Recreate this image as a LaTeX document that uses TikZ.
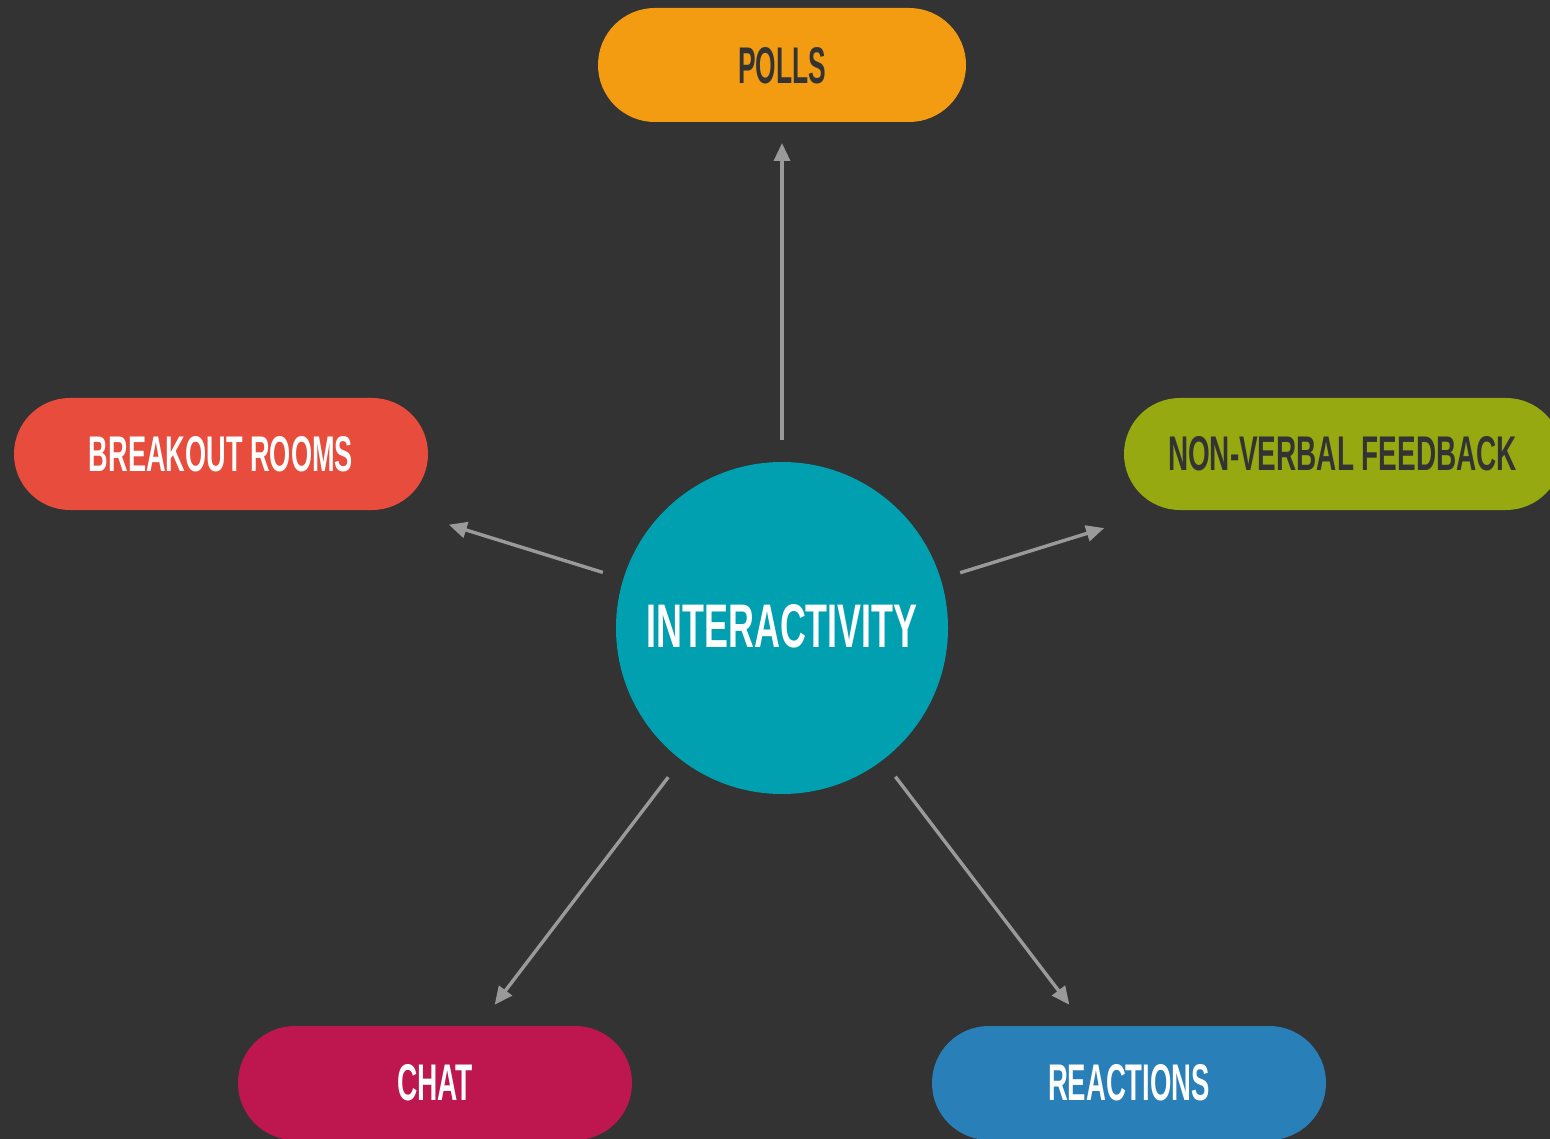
\documentclass[tikz,border=0pt]{standalone}
\usepackage{fontspec}
\setmainfont{Liberation Sans}
\usetikzlibrary{arrows.meta}
\definecolor{bg}{HTML}{333333}
\definecolor{ctrc}{HTML}{00A0B0}
\definecolor{pollc}{HTML}{F39C12}
\definecolor{brkc}{HTML}{E84C3D}
\definecolor{nvc}{HTML}{96A911}
\definecolor{chatc}{HTML}{BE164F}
\definecolor{reac}{HTML}{2980B9}
\definecolor{arrc}{HTML}{9A9A9A}
\definecolor{darktxt}{HTML}{333333}
\newcommand{\lbl}[3]{\resizebox{#1pt}{#2pt}{\bfseries #3}}
\begin{document}
\begin{tikzpicture}[x=1pt,y=-1pt,
  pill/.style={rectangle, rounded corners=56.9pt, minimum height=114pt, inner sep=0pt, draw=none},
  arr/.style={draw=arrc, line width=3.4pt, -{Triangle[length=18pt,width=16pt]}}]
\fill[bg] (0,0) rectangle (1550,1139);
\useasboundingbox (0,0) rectangle (1550,1139);
\clip (0,0) rectangle (1550,1139);
\node[circle, fill=ctrc, minimum size=332pt, inner sep=0pt] (ctr) at (782,628) {};
\node[text=white] (ctrt) at (782,626.5) {\lbl{271}{43}{INTERACTIVITY}};
\node[pill, fill=pollc, minimum width=368pt] (polls) at (782,65) {};
\node[text=darktxt] at (782,66) {\lbl{88}{36}{POLLS}};
\node[pill, fill=brkc, minimum width=414pt, minimum height=112pt, rounded corners=55.9pt] (brk) at (221,454) {};
\node[text=white] at (221,454.5) {\lbl{264}{35}{BREAKOUT ROOMS}};
\node[pill, fill=nvc, minimum width=438pt, minimum height=112pt, rounded corners=55.9pt] (nv) at (1343,454) {};
\node[text=darktxt] at (1342.5,454) {\lbl{349}{34}{NON-VERBAL FEEDBACK}};
\node[pill, fill=chatc, minimum width=394pt] (chat) at (435,1083) {};
\node[text=white] at (435,1083) {\lbl{76}{36}{CHAT}};
\node[pill, fill=reac, minimum width=394pt] (rea) at (1129,1083) {};
\node[text=white] at (1129,1083) {\lbl{162}{36}{REACTIONS}};
\draw[arr, shorten <=188pt, shorten >=78pt] (ctr.center) -- (polls.center);
\draw[arr, shorten <=187.6pt, shorten >=238.5pt] (ctr.center) -- (brk.center);
\draw[arr, shorten <=186.6pt, shorten >=250pt] (ctr.center) -- (nv.center);
\draw[arr, shorten <=187.6pt, shorten >=98.4pt] (ctr.center) -- (chat.center);
\draw[arr, shorten <=187pt, shorten >=98.4pt] (ctr.center) -- (rea.center);
\end{tikzpicture}
\end{document}
